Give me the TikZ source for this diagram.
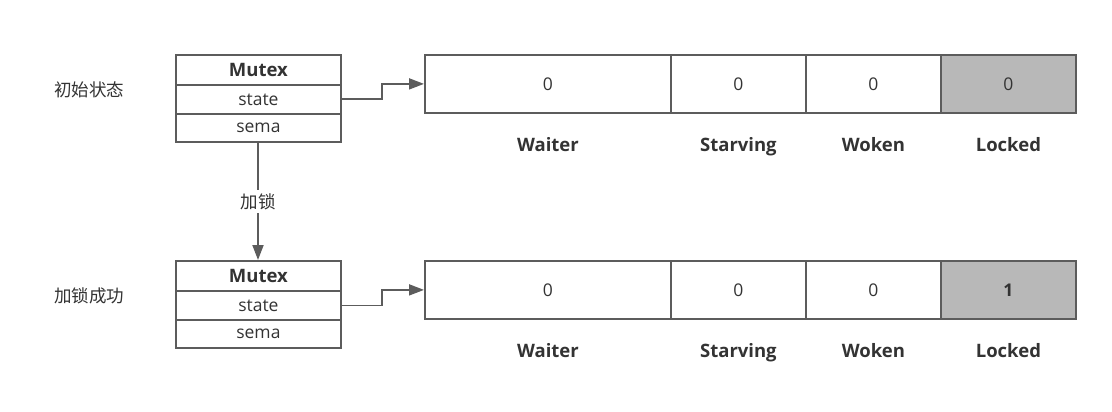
\documentclass[tikz,border=0pt]{standalone}
\usepackage{fontspec}
\setmainfont{Open Sans}
\newfontfamily\cjk{Noto Sans CJK SC}
\usetikzlibrary{arrows.meta}
\definecolor{edge}{HTML}{5C5C5C}
\definecolor{ink}{HTML}{333333}
\definecolor{lockfill}{HTML}{B8B8B8}
\tikzset{
  field/.style={draw=edge, line width=1.8pt, inner sep=0pt, anchor=north west, text=ink, font=\fontsize{17.5}{20}\selectfont},
  bit/.style={field, minimum height=58pt},
  lab/.style={text=ink, anchor=base, inner sep=0pt, font=\fontsize{18.5}{21}\selectfont\bfseries},
  side/.style={text=ink, font=\cjk\fontsize{17.5}{20}\selectfont},
  conn/.style={draw=edge, line width=1.8pt, -{Triangle[length=15pt, width=11pt]}},
}
\begin{document}
\begin{tikzpicture}[x=1pt, y=-1pt]
\useasboundingbox (0,0) rectangle (1112,412);

% two rows: initial state and after locking
\foreach \r/\y/\v/\tag/\lbl in {a/54/0/初始状态/\mdseries, b/260/1/加锁成功/\bfseries}{
  % Mutex struct
  \node[field, minimum width=165pt, minimum height=30pt, font=\fontsize{18.5}{21}\selectfont\bfseries] (\r mutex) at (175,\y) {Mutex};
  \node[field, minimum width=165pt, minimum height=29pt] (\r state) at (175,\y+30) {state};
  \node[field, minimum width=165pt, minimum height=28pt] (\r sema) at (175,\y+59) {sema};
  \node[side] (\r tag) at (89,\y+36) {\tag};
  % state word bits
  \node[bit, minimum width=246pt] (\r waiter) at (424,\y) {0};
  \node[bit, minimum width=135pt] (\r starving) at (670,\y) {0};
  \node[bit, minimum width=135pt] (\r woken) at (805,\y) {0};
  \node[bit, minimum width=135pt, fill=lockfill, font=\fontsize{17.5}{20}\selectfont\lbl] (\r locked) at (940,\y) {\v};
  % bit names, on a common baseline
  \node[lab] (\r lw) at ([yshift=-38pt]\r waiter.south) {Waiter};
  \node[lab] (\r ls) at ([yshift=-38pt]\r starving.south) {Starving};
  \node[lab] (\r lk) at ([yshift=-38pt]\r woken.south) {Woken};
  \node[lab] (\r ll) at ([yshift=-38pt]\r locked.south) {Locked};
  \draw[conn] (\r state.east) -- ++(40,0) |- (\r waiter.west);
}

\draw[conn] (asema.south -| 258,0) -- node[fill=white, side, inner sep=3pt] (lockstep) {加锁} (bmutex.north -| 258,0);
\end{tikzpicture}
\end{document}
